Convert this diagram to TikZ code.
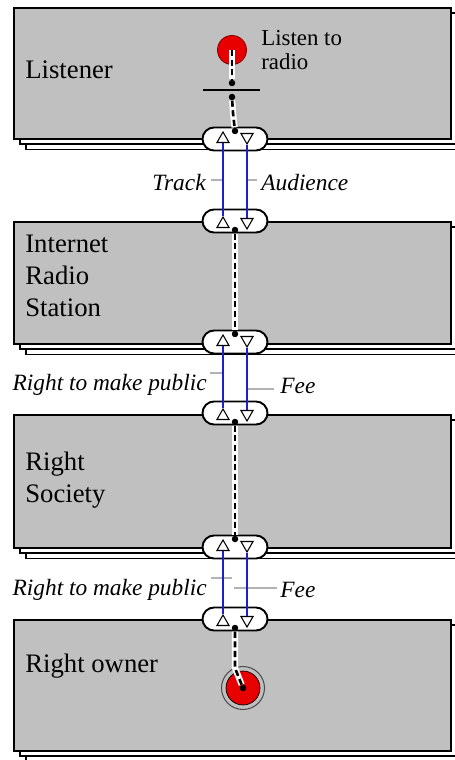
\documentclass[tikz,border=0pt]{standalone}
\usepackage{fontspec}
\setmainfont{Liberation Serif}
\usepackage{tikz}
\usetikzlibrary{positioning,shapes.geometric,shapes.misc,shadows}
\definecolor{boxgray}{RGB}{192,192,192}
\definecolor{flowblue}{RGB}{30,30,205}
\definecolor{markred}{RGB}{232,0,0}
\tikzset{
  panel/.style={draw=black, fill=boxgray, line width=1.1pt, anchor=north west, minimum width=8.74cm,
    general shadow={shadow xshift=0.24cm, shadow yshift=-0.21cm, fill=white, draw=black, line width=0.9pt},
    general shadow={shadow xshift=0.12cm, shadow yshift=-0.1cm, fill=white, draw=black, line width=0.9pt}},
  actor/.style={anchor=west, align=left, inner sep=0pt, font=\fontsize{15.2}{18.4}\selectfont},
  pill/.style={rounded rectangle, draw=black, fill=white, line width=1.1pt, minimum width=1.3cm, minimum height=0.46cm, inner sep=0pt},
  triup/.style={regular polygon, regular polygon sides=3, draw=black, fill=white, line width=0.6pt, minimum size=0.28cm, inner sep=0pt},
  tridn/.style={triup, shape border rotate=180},
  flow/.style={draw=flowblue, line width=1.4pt},
  wire/.style={draw=black, line width=1.5pt, dash pattern=on 3.5pt off 2pt, preaction={draw=white, line width=3.5pt, solid}},
  dot/.style={circle, fill=black, inner sep=0pt, minimum size=0.13cm},
  flowlabel/.style={inner sep=0pt, font=\fontsize{13.3}{16}\selectfont\itshape},
  leader/.style={draw=black!30, line width=0.8pt},
}
\begin{document}
\begin{tikzpicture}[x=0.02cm, y=-0.02cm]
  \useasboundingbox (0,0) rectangle (454,760);

  %% Panels
  \node[panel, minimum height=2.62cm] (listener) at (13,7) {};
  \node[panel, minimum height=2.44cm] (station) at (13,221) {};
  \node[panel, minimum height=2.66cm] (society) at (13,414) {};
  \node[panel, minimum height=2.62cm] (owner) at (13,619) {};

  \node[actor] (t-listener) at (25,70) {Listener};
  \node[actor, font=\fontsize{13}{14}\selectfont] (t-listen) at (261,50) {Listen to\\radio};
  \node[actor] (t-station) at (25,276) {Internet\\Radio\\Station};
  \node[actor] (t-society) at (25,480) {Right\\Society};
  \node[actor] (t-owner) at (25,666) {Right owner};

  %% Gap labels and leaders
  \node[flowlabel, anchor=east] (lbl-track) at (206,183) {Track};
  \node[flowlabel, anchor=west] (lbl-aud) at (261,183) {Audience};
  \coordinate (ld1a) at (211,180); \coordinate (ld1b) at (222,180);
  \coordinate (ld1c) at (248,180); \coordinate (ld1d) at (257,180);
  \draw[leader] (ld1a) -- (ld1b);
  \draw[leader] (ld1c) -- (ld1d);

  \node[flowlabel, anchor=east] (lbl-pub1) at (207,385) {Right to make public};
  \node[flowlabel, anchor=west] (lbl-fee1) at (280,386) {Fee};
  \coordinate (ld2a) at (210,373); \coordinate (ld2b) at (222,373);
  \coordinate (ld2c) at (248,389); \coordinate (ld2d) at (274,389);
  \draw[leader] (ld2a) -- (ld2b);
  \draw[leader] (ld2c) -- (ld2d);

  \node[flowlabel, anchor=east] (lbl-pub2) at (207,590) {Right to make public};
  \node[flowlabel, anchor=west] (lbl-fee2) at (280,590) {Fee};
  \coordinate (ld3a) at (211,578); \coordinate (ld3b) at (232,578);
  \coordinate (ld3c) at (234,588); \coordinate (ld3d) at (277,588);
  \draw[leader] (ld3a) -- (ld3b);
  \draw[leader] (ld3c) -- (ld3d);

  %% Gap 1: Listener <-> Station
  \node[pill] (g1a) at (235,139) {};
  \node[pill] (g1b) at (235,221) {};
  \node[triup] (g1a-up) at (223,139) {};
  \node[tridn] (g1a-dn) at (247,137) {};
  \node[triup] (g1b-up) at (223,224) {};
  \node[tridn] (g1b-dn) at (247,222) {};
  \draw[flow] (g1b-up) -- (g1a-up);
  \draw[flow] (g1a-dn) -- (g1b-dn);
  \node[dot] (g1a-d) at (235,131) {};
  \node[dot] (g1b-d) at (235,230) {};

  %% Gap 2: Station <-> Society
  \node[pill] (g2a) at (235,342) {};
  \node[pill] (g2b) at (235,413) {};
  \node[triup] (g2a-up) at (223,342) {};
  \node[tridn] (g2a-dn) at (247,340) {};
  \node[triup] (g2b-up) at (223,416) {};
  \node[tridn] (g2b-dn) at (247,414) {};
  \draw[flow] (g2b-up) -- (g2a-up);
  \draw[flow] (g2a-dn) -- (g2b-dn);
  \node[dot] (g2a-d) at (235,334) {};
  \node[dot] (g2b-d) at (235,422) {};

  %% Gap 3: Society <-> Owner
  \node[pill] (g3a) at (235,547) {};
  \node[pill] (g3b) at (235,619) {};
  \node[triup] (g3a-up) at (223,547) {};
  \node[tridn] (g3a-dn) at (247,545) {};
  \node[triup] (g3b-up) at (223,622) {};
  \node[tridn] (g3b-dn) at (247,620) {};
  \draw[flow] (g3b-up) -- (g3a-up);
  \draw[flow] (g3a-dn) -- (g3b-dn);
  \node[dot] (g3a-d) at (235,539) {};
  \node[dot] (g3b-d) at (235,628) {};

  %% Listener internals
  \node[circle, fill=markred, draw=markred!60!black, line width=0.5pt, minimum size=0.58cm] (src) at (232,50) {};
  \draw[line width=0.8pt] (203,90) -- (260,90);
  \node[dot] (bar-u) at (232,83) {};
  \node[dot] (bar-l) at (232,97) {};
  \coordinate (kink) at (233,113);
  \draw[wire] (src.center) -- (bar-u);
  \draw[wire] (bar-l) -- (kink) -- (g1a-d);

  %% Station and Society wires
  \draw[wire] (g1b-d) -- (g2a-d);
  \draw[wire] (g2b-d) -- (g3a-d);

  %% Right owner target
  \node[circle, draw=black!70, line width=0.6pt, minimum size=0.86cm] (sink-ring) at (243,688) {};
  \node[circle, fill=markred, draw=black, line width=0.4pt, minimum size=0.68cm] (sink) at (243,688) {};
  \node[dot] (sink-c) at (243,688) {};
  \coordinate (bend) at (235,668);
  \draw[wire] (g3b-d) -- (bend) -- (sink-c);
\end{tikzpicture}
\end{document}
